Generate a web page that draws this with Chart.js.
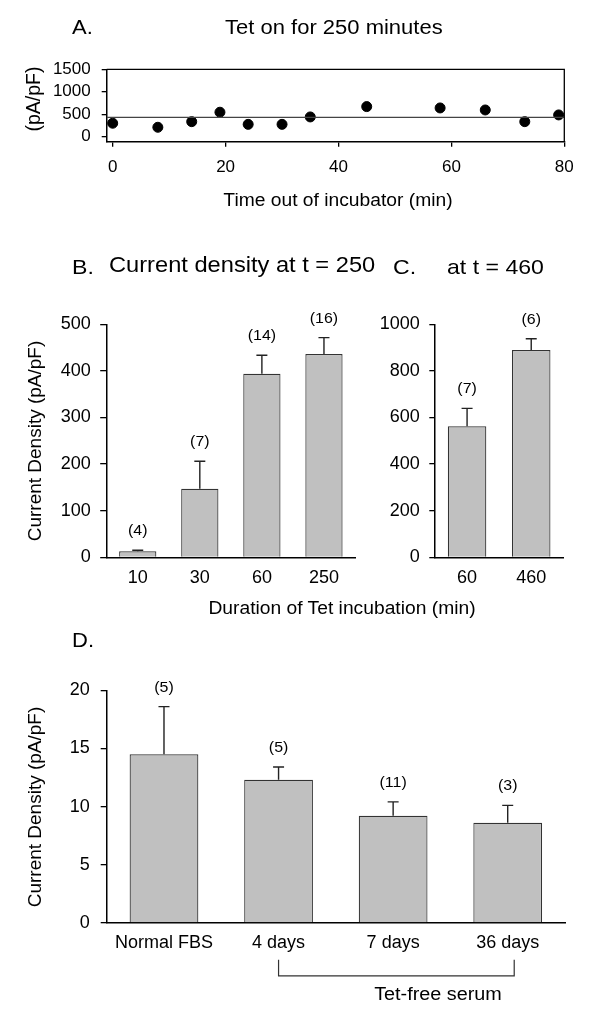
<!DOCTYPE html>
<html>
<head>
<meta charset="utf-8">
<script src="https://cdn.jsdelivr.net/npm/chart.js@4.4.1/dist/chart.umd.min.js"></script>
<style>
  html, body { margin: 0; padding: 0; background: #fff; }
  #page { position: relative; width: 600px; height: 1019px; overflow: hidden; font-family: 'Liberation Sans', Arial, sans-serif; color: #000; }
  .layer { position: absolute; left: 0; top: 0; width: 600px; height: 1019px; }
  .txt { position: absolute; white-space: nowrap; line-height: 1; }
</style>
</head>
<body>
<div id="page">
  <div class="layer"><canvas id="chartA"></canvas></div>
  <div class="layer"><canvas id="chartB"></canvas></div>
  <div class="layer"><canvas id="chartC"></canvas></div>
  <div class="layer"><canvas id="chartD"></canvas></div>
</div>
<script>
// A. current density vs time out of incubator
const timeA = [0, 8, 14, 19, 24, 30, 35, 45, 58, 66, 73, 79];
const densA = [300, 210, 335, 545, 275, 275, 440, 670, 640, 595, 335, 485];
const meanA = 432;
const xTicksA = [0, 20, 40, 60, 80];
const yTicksA = [0, 500, 1000, 1500];

// B. current density at t = 250
const durB = ['10', '30', '60', '250'];
const meanB = [13, 147, 394, 436];
const semB = [2, 59, 39.5, 35.5];
const nB = [4, 7, 14, 16];
const yTicksB = [0, 100, 200, 300, 400, 500];

// C. at t = 460
const durC = ['60', '460'];
const meanC = [562, 890];
const semC = [77, 48];
const nC = [7, 6];
const yTicksC = [0, 200, 400, 600, 800, 1000];

// D. tet-free serum
const groupsD = ['Normal FBS', '4 days', '7 days', '36 days'];
const meanD = [14.5, 12.3, 9.2, 8.6];
const semD = [4.1, 1.1, 1.2, 1.5];
const nD = [5, 5, 11, 3];
const yTicksD = [0, 5, 10, 15, 20];

const W = 600, H = 1019, YW = 80, XH = 40;
const FONT = "'Liberation Sans', Arial, sans-serif";
const STRETCH = 1.1;
Chart.defaults.font.family = FONT;
Chart.defaults.color = '#000';
Chart.defaults.animation = false;

function pad(a) {
    return { left: a.l - YW, top: a.t, right: W - a.r, bottom: H - a.b - XH };
}

function yAxis(min, max, ticks, tickLen, padding, size) {
    return {
        min: min, max: max,
        afterFit: s => { s.width = YW; },
        afterBuildTicks: s => { s.ticks = ticks.map(v => ({ value: v })); },
        grid: { display: true, drawOnChartArea: false, drawTicks: true, tickLength: tickLen, color: '#000', lineWidth: 1.3 },
        border: { display: true, color: '#000', width: 1.5 },
        ticks: { padding: padding, color: '#000', font: { size: size }, callback: v => String(v) }
    };
}

function catAxis(padding, size) {
    return {
        afterFit: s => { s.height = XH; },
        grid: { display: false, drawTicks: false },
        border: { display: true, color: '#000', width: 1.5 },
        ticks: { padding: padding, color: '#000', font: { size: size }, maxRotation: 0, autoSkip: false }
    };
}

// error bars (upper only) + n labels
const errBars = {
    id: 'errBars',
    afterDatasetsDraw(chart, args, opts) {
        const ctx = chart.ctx;
        const meta = chart.getDatasetMeta(0);
        const y = chart.scales.y;
        const vals = chart.data.datasets[0].data;
        ctx.save();
        ctx.strokeStyle = '#222';
        ctx.lineWidth = 1.4;
        meta.data.forEach((bar, i) => {
            const x = bar.x;
            const y0 = y.getPixelForValue(vals[i]);
            const y1 = y.getPixelForValue(vals[i] + opts.sem[i]);
            ctx.beginPath();
            ctx.moveTo(x, y0);
            ctx.lineTo(x, y1);
            ctx.moveTo(x - 5.5, y1);
            ctx.lineTo(x + 5.5, y1);
            ctx.stroke();
            ctx.save();
            ctx.translate(x, y1 - 19);
            ctx.scale(STRETCH, 1);
            ctx.fillStyle = '#000';
            ctx.font = '14.5px ' + FONT;
            ctx.textAlign = 'center';
            ctx.textBaseline = 'middle';
            ctx.fillText('(' + opts.n[i] + ')', 0, 0);
            ctx.restore();
        });
        ctx.restore();
    }
};

function barPanel(id, area, labels, means, sems, ns, yMax, yTicks, tickLen, yPad, xPad, size, extra) {
    return new Chart(document.getElementById(id), {
        type: 'bar',
        data: {
            labels: labels,
            datasets: [{
                data: means,
                backgroundColor: '#c0c0c0',
                borderColor: '#333',
                borderWidth: 1.2,
                barPercentage: 0.6,
                categoryPercentage: 1.0
            }]
        },
        options: {
            responsive: true,
            maintainAspectRatio: false,
            layout: { padding: pad(area) },
            scales: {
                x: catAxis(xPad, size),
                y: yAxis(0, yMax, yTicks, tickLen, yPad, size)
            },
            plugins: {
                legend: { display: false },
                tooltip: { enabled: false },
                errBars: { sem: sems, n: ns }
            }
        },
        plugins: [errBars].concat(extra || [])
    });
}

// 1. PAINEL A
const areaA = { l: 106.7, r: 564.3, t: 69.3, b: 141.7 };
const xMinA = -1.06, xMaxA = 80;
const frameBox = {
    id: 'frameBox',
    afterDraw(chart) {
        const { ctx, chartArea: a } = chart;
        ctx.save();
        ctx.strokeStyle = '#000';
        ctx.lineWidth = 1.3;
        ctx.beginPath();
        ctx.moveTo(a.left, a.top);
        ctx.lineTo(a.right, a.top);
        ctx.lineTo(a.right, a.bottom);
        ctx.stroke();
        ctx.restore();
    }
};
new Chart(document.getElementById('chartA'), {
    type: 'scatter',
    data: {
        datasets: [{
            type: 'line',
            data: [{ x: xMinA, y: meanA }, { x: xMaxA, y: meanA }],
            borderColor: '#444',
            borderWidth: 1.2,
            pointRadius: 0
        }, {
            data: timeA.map((t, i) => ({ x: t, y: densA[i] })),
            backgroundColor: '#000',
            borderColor: '#000',
            pointRadius: 5,
            clip: false
        }]
    },
    options: {
        responsive: true,
        maintainAspectRatio: false,
        layout: { padding: pad(areaA) },
        scales: {
            x: {
                type: 'linear', min: xMinA, max: xMaxA,
                afterFit: s => { s.height = XH; },
                afterBuildTicks: s => { s.ticks = xTicksA.map(v => ({ value: v })); },
                grid: { display: true, drawOnChartArea: false, tickLength: 5, color: '#000', lineWidth: 1.3 },
                border: { display: true, color: '#000', width: 1.5 },
                ticks: { padding: 10.5, color: '#000', font: { size: 17 }, callback: v => String(v) }
            },
            y: yAxis(-111, 1500, yTicksA, 5, 11, 17)
        },
        plugins: { legend: { display: false }, tooltip: { enabled: false } }
    },
    plugins: [frameBox]
});

// 2. PAINEIS B e C
barPanel('chartB', { l: 106.7, r: 355, t: 324.3, b: 557.3 }, durB, meanB, semB, nB, 500, yTicksB, 6.5, 9.5, 10, 18);
barPanel('chartC', { l: 435, r: 563.3, t: 324.3, b: 557.3 }, durC, meanC, semC, nC, 1000, yTicksC, 5.7, 9.5, 10, 18);

// 3. PAINEL D (com colchete "Tet-free serum")
const bracket = {
    id: 'bracket',
    afterDraw(chart) {
        const { ctx, chartArea: a } = chart;
        const x = chart.scales.x;
        const x0 = x.getPixelForValue(1);
        const x1 = x.getPixelForValue(3) + 6.5;
        const yTop = a.bottom + 37, yBot = a.bottom + 53;
        ctx.save();
        ctx.strokeStyle = '#333';
        ctx.lineWidth = 1.2;
        ctx.beginPath();
        ctx.moveTo(x0, yTop);
        ctx.lineTo(x0, yBot);
        ctx.lineTo(x1, yBot);
        ctx.lineTo(x1, yTop);
        ctx.stroke();
        ctx.restore();
    }
};
barPanel('chartD', { l: 106.7, r: 565, t: 690.3, b: 922.8 }, groupsD, meanD, semD, nD, 20, yTicksD, 6, 11, 9.4, 18, [bracket]);

// 4. TEXTOS
const page = document.getElementById('page');
function text(str, x, base, size, align) {
    const d = document.createElement('div');
    d.className = 'txt';
    d.textContent = str;
    d.style.fontSize = size + 'px';
    d.style.left = x + 'px';
    d.style.top = (base - size * 0.8465) + 'px';
    if (align === 'center') {
        d.style.transformOrigin = '50% 50%';
        d.style.transform = 'translateX(-50%) scaleX(' + STRETCH + ')';
    } else {
        d.style.transformOrigin = '0 0';
        d.style.transform = 'scaleX(' + STRETCH + ')';
    }
    page.appendChild(d);
}
function vtext(str, cx, cy, size) {
    const d = document.createElement('div');
    d.className = 'txt';
    d.textContent = str;
    d.style.fontSize = size + 'px';
    d.style.left = cx + 'px';
    d.style.top = cy + 'px';
    d.style.transformOrigin = '50% 50%';
    d.style.transform = 'translate(-50%, -50%) rotate(-90deg)';
    page.appendChild(d);
}

text('A.', 71.7, 34.3, 20);
text('Tet on for 250 minutes', 225, 34.3, 20);
vtext('(pA/pF)', 34, 99, 19.5);
text('Time out of incubator (min)', 338, 207, 17.5, 'center');

text('B.', 71.7, 273.3, 21);
text('Current density at t = 250', 109, 273.3, 21.5);
text('C.', 393.3, 273.3, 21);
text('at t = 460', 446.7, 273.3, 21);
vtext('Current Density (pA/pF)', 34, 440.5, 19);
text('Duration of Tet incubation (min)', 341.7, 615, 17.5, 'center');

text('D.', 71.7, 646.7, 20);
vtext('Current Density (pA/pF)', 34, 806.7, 19);
text('Tet-free serum', 437.6, 1000.5, 18, 'center');
</script>
</body>
</html>
